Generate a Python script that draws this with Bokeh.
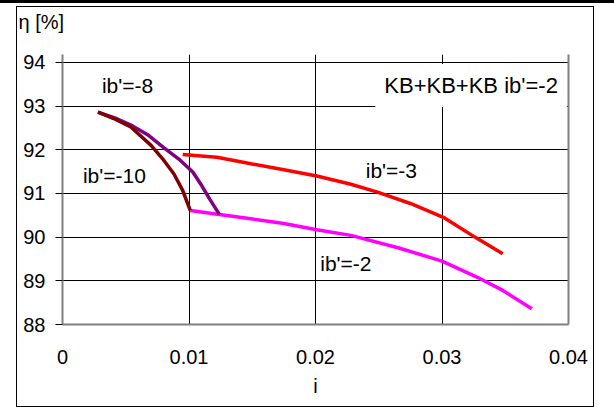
from bokeh.plotting import figure
from bokeh.layouts import column
from bokeh.models import Range1d, FixedTicker, LinearAxis, Label, Spacer
from bokeh.embed import file_html
from bokeh.resources import INLINE

# ---- data ----
i_m10 = [0.0028, 0.0040, 0.0054, 0.0070, 0.0080, 0.0088, 0.0095, 0.0099, 0.0101]
eta_m10 = [92.86, 92.72, 92.52, 92.10, 91.76, 91.45, 91.07, 90.76, 90.61]

i_m8 = [0.0028, 0.0043, 0.0055, 0.0067, 0.0080, 0.0093, 0.0103, 0.0110, 0.0117, 0.0124]
eta_m8 = [92.86, 92.71, 92.55, 92.35, 92.05, 91.76, 91.49, 91.18, 90.84, 90.52]

i_m3 = [0.0095, 0.0122, 0.0149, 0.0175, 0.0201, 0.0228, 0.0249, 0.0275, 0.0302, 0.0326, 0.0348]
eta_m3 = [91.89, 91.83, 91.68, 91.54, 91.40, 91.21, 91.03, 90.77, 90.44, 90.00, 89.62]

i_m2 = [0.0101, 0.0124, 0.0149, 0.0175, 0.0201, 0.0228, 0.0266, 0.0300, 0.0328, 0.0348, 0.0371]
eta_m2 = [90.61, 90.52, 90.42, 90.31, 90.17, 90.04, 89.75, 89.45, 89.08, 88.78, 88.36]

x_ticks = [0, 0.01, 0.02, 0.03, 0.04]
x_tick_labels = ["0", "0.01", "0.02", "0.03", "0.04"]
y_ticks = [88, 89, 90, 91, 92, 93, 94]
y_tick_labels = ["88", "89", "90", "91", "92", "93", "94"]

FONT = "Liberation Sans"
FS = "20px"
FS_NOTE = "21px"

p = figure(width=576, height=399, output_backend="svg", toolbar_location=None,
           x_range=Range1d(0, 0.04), y_range=Range1d(88, 94.18),
           min_border_left=45, min_border_right=25, min_border_top=47, min_border_bottom=82,
           margin=(4, 0, 0, 17), styles={"outline": "1px solid black"})
p.outline_line_color = None
p.background_fill_color = "white"
p.border_fill_color = "white"

# y-axis caption as a left aligned title (second empty line lifts it up)
p.title.text = "η [%]\n"
p.title.align = "left"
p.title.vertical_align = "bottom"
p.title.offset = -44
p.title.text_font = FONT
p.title.text_font_size = FS
p.title.text_font_style = "normal"
p.title.text_color = "black"
p.title.text_line_height = 1.0
p.title.standoff = 0

# axes
xa = p.xaxis[0]
xa.ticker = FixedTicker(ticks=x_ticks)
xa.major_label_overrides = {t: l for t, l in zip(x_ticks, x_tick_labels)}
xa.axis_label = "i"
ya = p.yaxis[0]
ya.ticker = FixedTicker(ticks=y_ticks)
ya.major_label_overrides = {t: l for t, l in zip(y_ticks, y_tick_labels)}

for ax in (xa, ya):
    ax.axis_line_color = "#808080"
    ax.axis_line_width = 2
    ax.minor_tick_line_color = None
    ax.major_label_text_font = FONT
    ax.major_label_text_font_size = FS
    ax.major_label_text_color = "black"
    ax.axis_label_text_font = FONT
    ax.axis_label_text_font_size = FS
    ax.axis_label_text_font_style = "normal"
    ax.axis_label_text_color = "black"

xa.major_tick_line_color = None
xa.major_tick_out = 0
xa.major_tick_in = 0
xa.major_label_standoff = 25
xa.axis_label_standoff = 8

ya.major_tick_line_color = "black"
ya.major_tick_out = 7
ya.major_tick_in = 0
ya.major_label_standoff = 10

right_ax = LinearAxis(ticker=FixedTicker(ticks=[]), axis_line_color="#808080", axis_line_width=2,
                      major_tick_line_color=None, minor_tick_line_color=None)
p.add_layout(right_ax, "right")

# grid
p.xgrid.ticker = FixedTicker(ticks=[0.01, 0.02, 0.03])
p.ygrid.ticker = FixedTicker(ticks=[89, 90, 91, 92, 93, 94])
p.xgrid.grid_line_color = "black"
p.ygrid.grid_line_color = "black"
p.xgrid.grid_line_width = 1
p.ygrid.grid_line_width = 1

# series
p.line(i_m2, eta_m2, line_color="#FF00FF", line_width=3.5)
p.line(i_m3, eta_m3, line_color="#FF0000", line_width=3.5)
p.line(i_m8, eta_m8, line_color="#800080", line_width=3.5)
p.line(i_m10, eta_m10, line_color="#800000", line_width=3.5)

# text labels
def lab(x, y, t, size=FS_NOTE, pad=2):
    return Label(x=x, y=y, text=t, text_align="center", text_baseline="middle",
                 text_font=FONT, text_font_size=size, text_color="black",
                 background_fill_color="white", padding=pad)

p.add_layout(lab(0.00514, 93.47, "ib'=-8"))
p.add_layout(lab(0.0041, 91.41, "ib'=-10"))
p.add_layout(lab(0.0260, 91.53, "ib'=-3"))
p.add_layout(lab(0.0224, 89.40, "ib'=-2"))
p.add_layout(lab(0.0323, 93.47, "KB+KB+KB ib'=-2", size="22px", pad=9))

band = Spacer(width=614, height=3, styles={"background-color": "black"})
layout = column(band, p, spacing=0)

open("out.html", "w").write(file_html(layout, INLINE))
